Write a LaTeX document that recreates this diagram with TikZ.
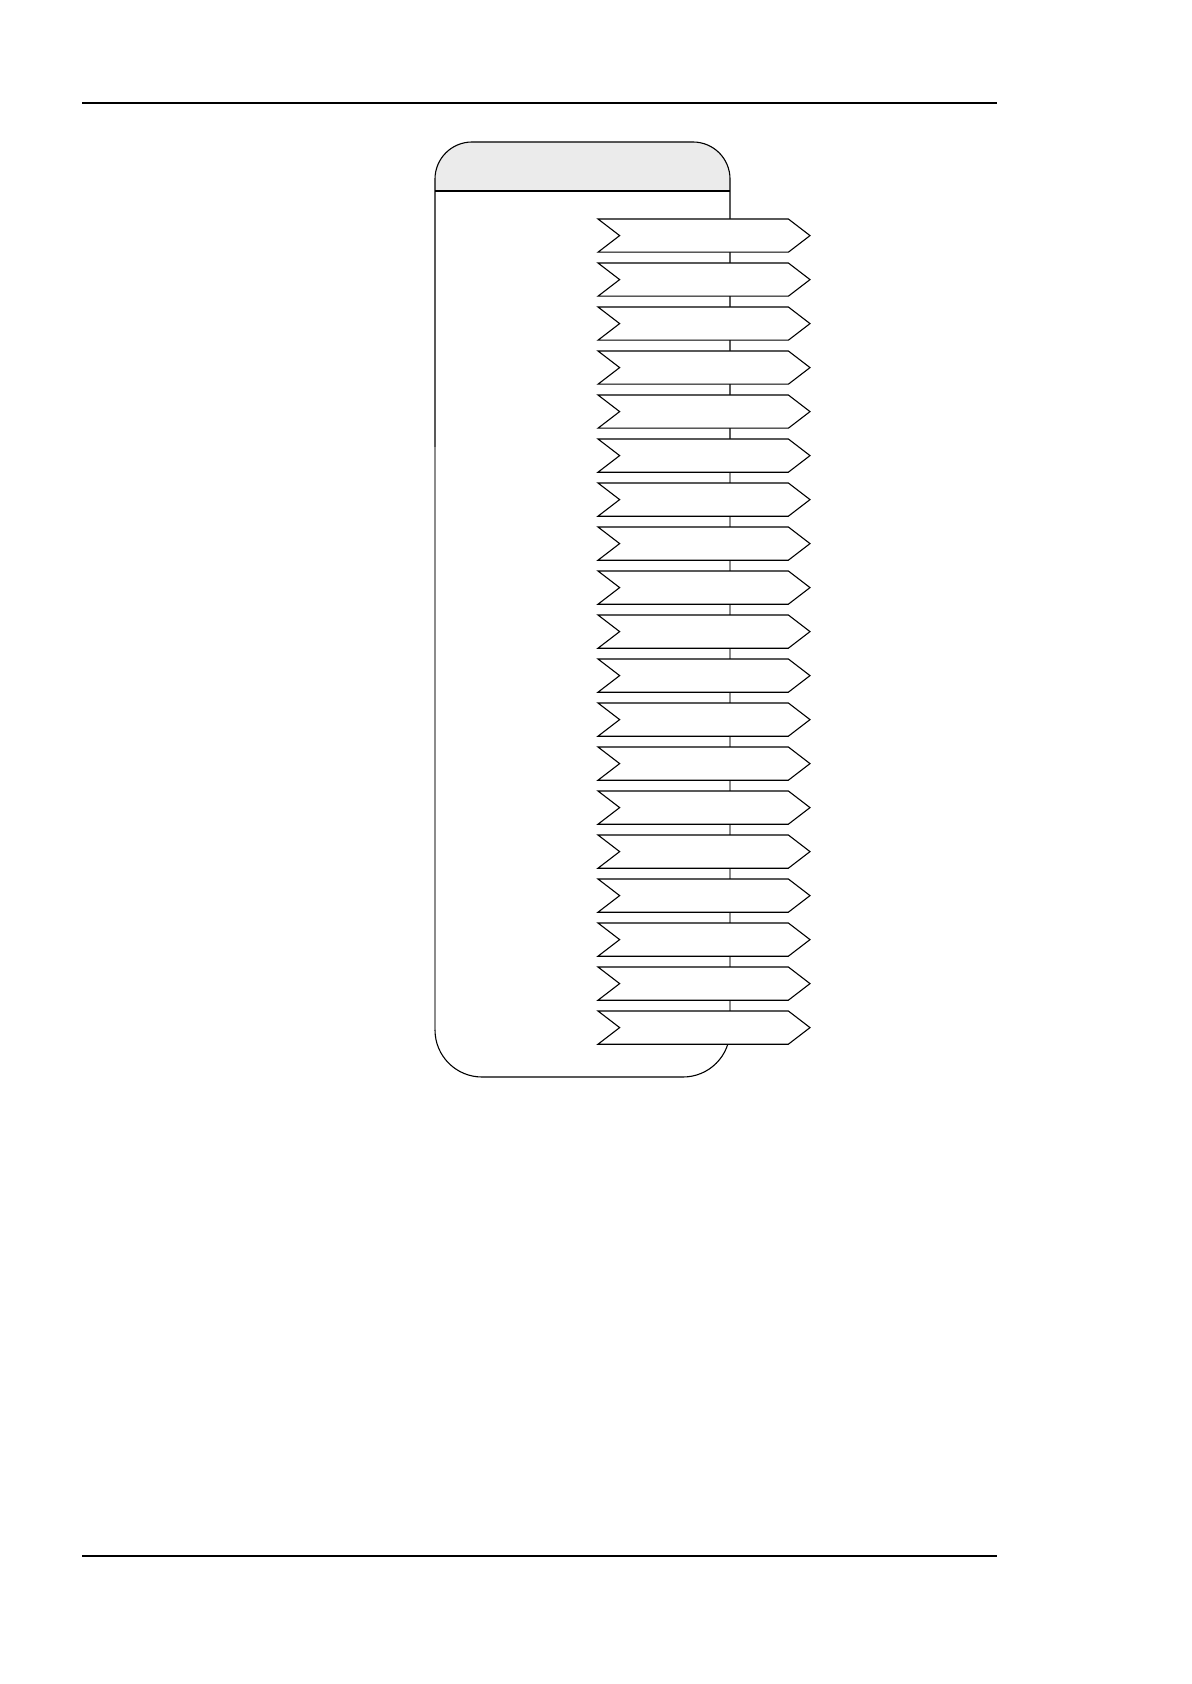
\documentclass[tikz,border=0pt]{standalone}
\usetikzlibrary{shapes.symbols}
\definecolor{hdr}{HTML}{EBEBEB}
\definecolor{edgegrey}{HTML}{8C8C8C}
\begin{document}
\begin{tikzpicture}[x=0.5pt,y=-0.5pt,
  tag/.style={signal, signal to=east, signal from=west, draw=black, fill=white,
    line width=0.55pt, minimum width=106pt, minimum height=16.6pt, inner sep=0pt,
    signal pointer angle=75},
  boxline/.style={line width=0.55pt, black},
  boxgrey/.style={line width=0.55pt, edgegrey},
  rule/.style={line width=1.1pt, black}]
\useasboundingbox (0,0) rectangle (1191,1684);
% page rules
\coordinate (rtl) at (82,103);
\coordinate (rtr) at (997,103);
\coordinate (rbl) at (82,1556);
\coordinate (rbr) at (997,1556);
\draw[rule] (rtl) -- (rtr);
\draw[rule] (rbl) -- (rbr);
% header fill
\fill[hdr] (435,191) -- (435,179) arc[start angle=180,end angle=270,radius=37]
  -- (693,142) arc[start angle=270,end angle=360,radius=37] -- (730,191) -- cycle;
% box outline
\draw[boxline] (435,447) -- (435,179) arc[start angle=180,end angle=270,radius=37]
  -- (693,142) arc[start angle=270,end angle=360,radius=37] -- (730,447);
\draw[boxgrey] (435,447) -- (435,1030);
\draw[boxgrey] (730,447) -- (730,1030);
\draw[boxline] (435,1030) arc[start angle=180,end angle=90,radius=47]
  -- (683,1077) arc[start angle=90,end angle=0,radius=47];
\draw[boxline] (435,191) -- (730,191);
% arrows
\foreach \i in {0,...,18}{
  \node[tag] (a\i) at (704,{235.6+44*\i}) {};
}
\end{tikzpicture}
\end{document}
